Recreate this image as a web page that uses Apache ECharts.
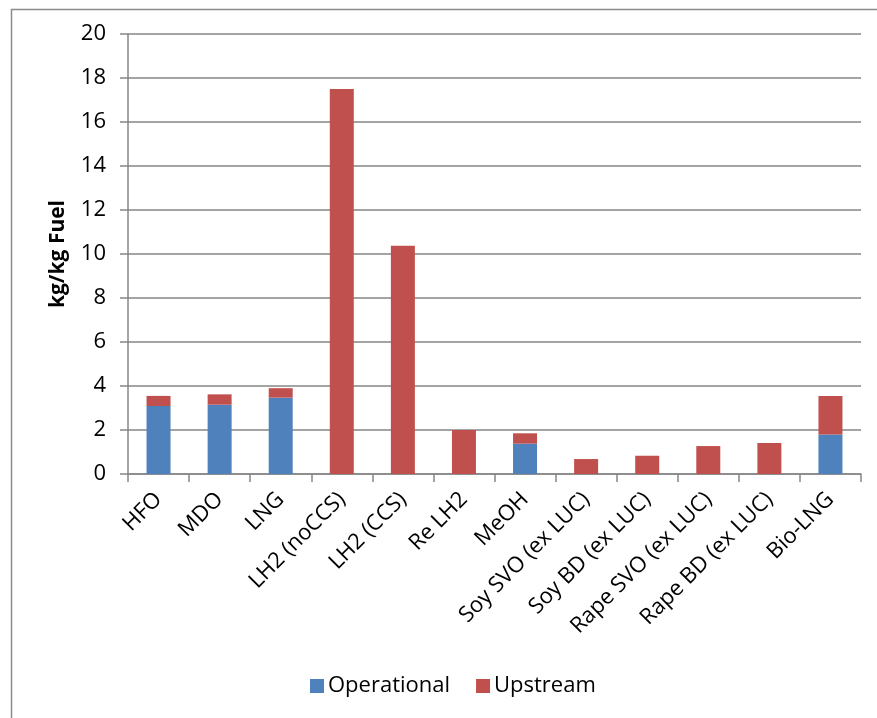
<!DOCTYPE html>
<html>
<head>
<meta charset="utf-8">
<script src="https://cdn.jsdelivr.net/npm/echarts@6/dist/echarts.min.js"></script>
<style>
  html, body { margin: 0; padding: 0; background: #fff; }
  #chart { width: 877px; height: 718px; }
</style>
</head>
<body>
<div id="chart"></div>
<script>
// fuels on the x axis
const categories = ['HFO', 'MDO', 'LNG', 'LH2 (noCCS)', 'LH2 (CCS)', 'Re LH2', 'MeOH',
    'Soy SVO (ex LUC)', 'Soy BD (ex LUC)', 'Rape SVO (ex LUC)', 'Rape BD (ex LUC)', 'Bio-LNG'];

// kg/kg fuel
const operational = [3.09, 3.15, 3.47, 0, 0, 0, 1.38, 0, 0, 0, 0, 1.79];
const upstream = [0.46, 0.47, 0.43, 17.5, 10.38, 2.0, 0.47, 0.68, 0.83, 1.27, 1.41, 1.76];

const yTicks = { min: 0, max: 20, interval: 2 };

const FONT = '"Open Sans", sans-serif';
const AXIS_GREY = '#868686';
const COLORS = { operational: '#4F81BD', upstream: '#C0504D' };

const chart = echarts.init(document.getElementById('chart'));

const barSeries = (name, data, color) => ({
    name, type: 'bar', stack: 'total', data, barWidth: 24,
    itemStyle: { color },
    emphasis: { disabled: true }
});

chart.setOption({
    animation: false,
    textStyle: { fontFamily: FONT },
    graphic: [{
        type: 'rect', left: 9, top: 7, silent: true,
        shape: { width: 900, height: 730 },
        style: { fill: 'none', stroke: '#8c8c8c', lineWidth: 1.5 }
    }],
    grid: { left: 128, top: 34, right: 16, bottom: 244, containLabel: false },
    legend: {
        left: 305, top: 670, itemWidth: 14, itemHeight: 14, itemGap: 26,
        icon: 'rect',
        textStyle: { fontFamily: FONT, fontSize: 22, color: '#000', padding: [0, 0, 0, -1] },
        data: ['Operational', 'Upstream']
    },
    xAxis: {
        type: 'category', data: categories,
        axisLine: { lineStyle: { color: AXIS_GREY, width: 1.5 } },
        axisTick: { show: true, length: 8, lineStyle: { color: AXIS_GREY, width: 1.5 } },
        axisLabel: { rotate: 45, interval: 0, margin: 22, color: '#000', fontSize: 22, fontFamily: FONT }
    },
    yAxis: {
        type: 'value', ...yTicks,
        name: 'kg/kg Fuel', nameLocation: 'middle', nameGap: 59,
        nameTextStyle: { fontFamily: FONT, fontSize: 21, fontWeight: 'bold', color: '#000' },
        axisLine: { show: true, lineStyle: { color: AXIS_GREY, width: 1.5 } },
        axisTick: { show: true, length: 8, lineStyle: { color: AXIS_GREY, width: 1.5 } },
        splitLine: { show: true, lineStyle: { color: AXIS_GREY, width: 1.5 } },
        axisLabel: { color: '#000', fontSize: 22, fontFamily: FONT, margin: 22 }
    },
    series: [
        barSeries('Operational', operational, COLORS.operational),
        barSeries('Upstream', upstream, COLORS.upstream)
    ]
});
</script>
</body>
</html>
